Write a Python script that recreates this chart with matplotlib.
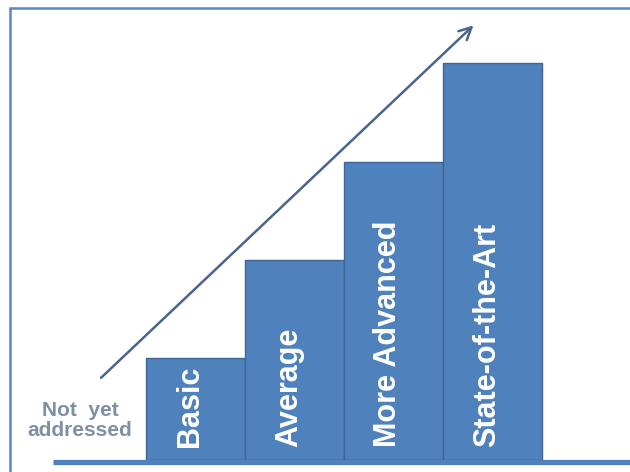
import matplotlib.pyplot as plt
from matplotlib.patches import Rectangle

# maturity levels, drawn as a staircase of bars
levels = ["Basic", "Average", "More Advanced", "State-of-the-Art"]
heights = [1.03, 2.02, 3.01, 4.01]
start_label = "Not  yet\naddressed"

BAR_COLOR = "#4F81BD"
EDGE_COLOR = "#3F6594"
ARROW_COLOR = "#4A6490"
TEXT_GREY = "#7F8FA8"

plt.rcParams['font.family'] = ['Liberation Sans', 'DejaVu Sans']

fig = plt.figure(figsize=(6.3, 4.72), dpi=100)
ax = fig.add_axes([0, 0, 1, 1])
ax.set_xlim(-1.97, 4.39)
ax.set_ylim(-0.121, 4.646)
ax.axis('off')

x = list(range(len(levels)))
ax.bar(x, heights, width=1.0, color=BAR_COLOR, edgecolor=EDGE_COLOR,
       linewidth=1.0, zorder=2)

# ground line
ax.plot([-1.44, 4.5], [-0.02, -0.02], color=BAR_COLOR, lw=3.8,
        solid_capstyle='butt', zorder=3)

for xi, name in zip(x, levels):
    ax.text(xi - 0.05, 0.13, name, rotation=90, ha='center', va='bottom',
            color='white', fontsize=22, fontweight='bold', zorder=4)

ax.text(-1.16, 0.4, start_label, ha='center', va='center', color=TEXT_GREY,
        fontsize=15, fontweight='bold', linespacing=1.1)

# rising arrow
ax.annotate("", xy=(2.81, 4.39), xytext=(-0.95, 0.83),
            arrowprops=dict(arrowstyle="->", color=ARROW_COLOR, lw=1.8,
                            mutation_scale=22, shrinkA=0, shrinkB=0))

# frame, cut off on the right and bottom
fig.patches.append(Rectangle((10 / 630, -0.2), 1.2, 1.2 - 8 / 472,
                             transform=fig.transFigure, fill=False,
                             edgecolor="#5A86C4", lw=1.8))

fig.savefig("out.png", dpi=100)
